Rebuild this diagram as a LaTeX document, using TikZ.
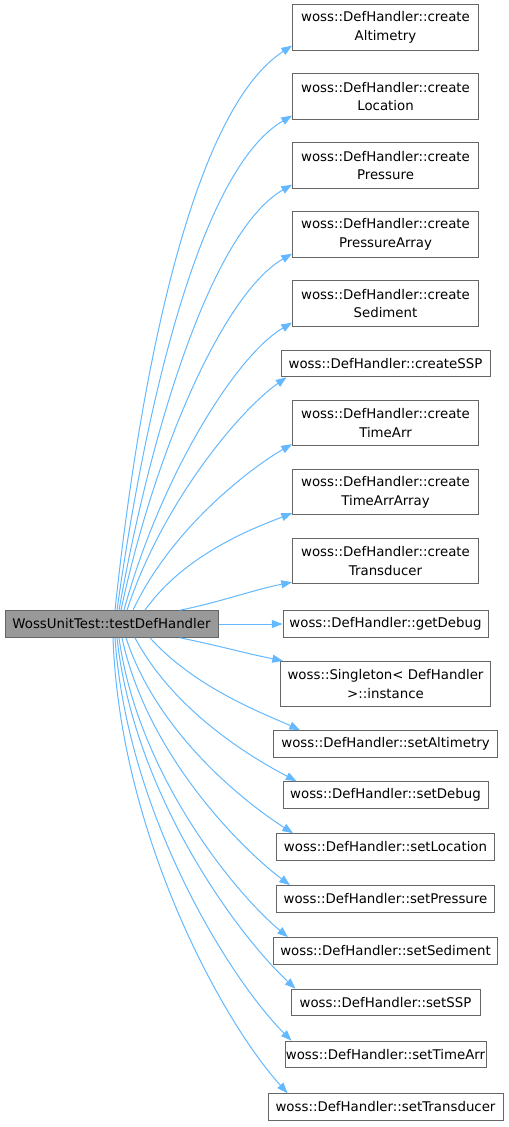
\documentclass[tikz,border=0pt]{standalone}
\usepackage{fontspec}
\setmainfont{DejaVu Sans}
\usetikzlibrary{arrows.meta,calc}
\definecolor{edgeblue}{HTML}{63B8FF}
\definecolor{boxgray}{HTML}{666666}
\definecolor{srcfill}{HTML}{999999}
\begin{document}
\begin{tikzpicture}[x=0.75pt,y=-0.75pt,
  font=\fontsize{10pt}{14pt}\selectfont,
  box/.style={draw=boxgray, line width=0.75pt, fill=white, inner sep=0pt, align=center, minimum height=20pt},
  boxtwo/.style={box, minimum height=34pt, minimum width=139.5pt},
  srcbox/.style={box, fill=srcfill},
  edge/.style={draw=edgeblue, line width=0.75pt, -{Triangle[length=8pt,width=6pt]}}]
\useasboundingbox (0,0) rectangle (508,1127);

\node[srcbox, minimum width=159.75pt] (src) at (111.5,624) {WossUnitTest::testDefHandler};

\node[boxtwo] (t1) at (385.5,27.5) {woss::DefHandler::create\\Altimetry};
\node[boxtwo] (t2) at (385.5,96.5) {woss::DefHandler::create\\Location};
\node[boxtwo] (t3) at (385.5,165.5) {woss::DefHandler::create\\Pressure};
\node[boxtwo] (t4) at (385.5,234.5) {woss::DefHandler::create\\PressureArray};
\node[boxtwo] (t5) at (385.5,303.5) {woss::DefHandler::create\\Sediment};
\node[box, minimum width=156.75pt] (t6) at (385.5,363.5) {woss::DefHandler::createSSP};
\node[boxtwo] (t7) at (385.5,423) {woss::DefHandler::create\\TimeArr};
\node[boxtwo] (t8) at (385.5,492) {woss::DefHandler::create\\TimeArrArray};
\node[boxtwo] (t9) at (385.5,561) {woss::DefHandler::create\\Transducer};
\node[box, minimum width=153.75pt] (t10) at (385.5,624) {woss::DefHandler::getDebug};
\node[boxtwo, minimum width=157.5pt] (t11) at (385.5,684) {woss::Singleton< DefHandler\\>::instance};
\node[box, minimum width=168pt] (t12) at (385.5,744) {woss::DefHandler::setAltimetry};
\node[box, minimum width=153.75pt] (t13) at (385.5,795) {woss::DefHandler::setDebug};
\node[box, minimum width=163.5pt] (t14) at (385.5,847) {woss::DefHandler::setLocation};
\node[box, minimum width=163.5pt] (t15) at (385.5,899) {woss::DefHandler::setPressure};
\node[box, minimum width=168pt] (t16) at (385.5,951) {woss::DefHandler::setSediment};
\node[box, minimum width=141.75pt] (t17) at (385.5,1002.5) {woss::DefHandler::setSSP};
\node[box, minimum width=150.75pt] (t18) at (385.5,1054.5) {woss::DefHandler::setTimeArr};
\node[box, minimum width=176.25pt] (t19) at (385.5,1107) {woss::DefHandler::setTransducer};

% upper edges
\draw[edge] ($(src.north)+(3.5,0)$) .. controls +(25,-236) and +(-100,65) .. ($(t1.south west)+(0,-5)$);
\draw[edge] ($(src.north)+(5.5,0)$) .. controls +(29,-208) and +(-91,53) .. ($(t2.south west)+(0,-4)$);
\draw[edge] ($(src.north)+(7.5,0)$) .. controls +(32,-181) and +(-80,46) .. ($(t3.south west)+(0,-4)$);
\draw[edge] ($(src.north)+(9.5,0)$) .. controls +(33,-156) and +(-69,40) .. ($(t4.south west)+(0,-4)$);
\draw[edge] ($(src.north)+(12.5,0)$) .. controls +(35,-129) and +(-58,34) .. ($(t5.south west)+(0,-4)$);
\draw[edge] ($(src.north)+(15.5,0)$) .. controls +(35,-107) and +(-47,33) .. ($(t6.south west)+(6,0)$);
\draw[edge] ($(src.north)+(21.5,0)$) .. controls +(39,-83) and +(-40,23) .. ($(t7.south west)+(0,-2)$);
\draw[edge] ($(src.north)+(33.5,0)$) .. controls +(41,-58) and +(-33,13) .. ($(t8.south west)+(0,-2)$);
\draw[edge] ($(src.north)+(68.5,0)$) .. controls +(40,-8) and +(-40,8) .. ($(t9.south west)+(0,-2)$);
% middle
\draw[edge] (src.east) -- (t10.west);
% lower edges
\draw[edge] ($(src.south)+(68.5,0)$) .. controls +(40,8) and +(-40,-8) .. ($(t11.north west)+(3,0)$);
\draw[edge] ($(src.south)+(38.5,0)$) .. controls +(47,52) and +(-32,-15) .. ($(t12.north west)+(27,0)$);
\draw[edge] ($(src.south)+(23.5,0)$) .. controls +(41,77) and +(-38,-20) .. ($(t13.north west)+(14,0)$);
\draw[edge] ($(src.south)+(14.5,0)$) .. controls +(32,98) and +(-44,-28) .. ($(t14.north west)+(17,0)$);
\draw[edge] ($(src.south)+(10.5,0)$) .. controls +(25,117) and +(-48,-36) .. ($(t15.north west)+(14,0)$);
\draw[edge] ($(src.south)+(7.5,0)$) .. controls +(19,137) and +(-53,-44) .. ($(t16.north west)+(15,0)$);
\draw[edge] ($(src.south)+(5.5,0)$) .. controls +(17,157) and +(-58,-54) .. ($(t17.north west)+(5,0)$);
\draw[edge] ($(src.south)+(3.5,0)$) .. controls +(12,176) and +(-62,-62) .. ($(t18.north west)+(7,0)$);
\draw[edge] ($(src.south)+(1.5,0)$) .. controls +(7,196) and +(-66,-73) .. ($(t19.north west)+(20,0)$);
\end{tikzpicture}
\end{document}
